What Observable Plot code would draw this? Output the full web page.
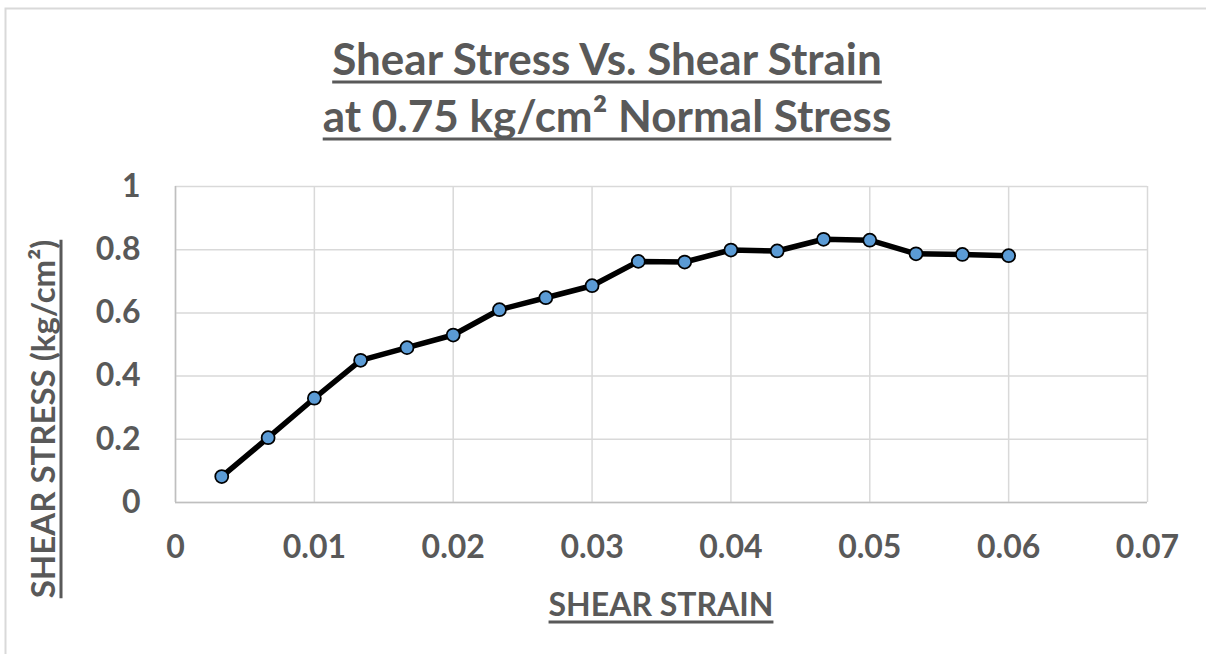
<!DOCTYPE html>
<html><head><meta charset="utf-8">
<script src="https://cdn.jsdelivr.net/npm/d3@7"></script>
<script src="https://cdn.jsdelivr.net/npm/@observablehq/plot@0.6"></script>
<style>body{margin:0;background:#fff} svg{display:block}</style>
</head><body><div id="chart"></div>
<script>
const strain = [0.00333,0.00667,0.01,0.01333,0.01667,0.02,0.02333,0.02667,0.03,0.03333,0.03667,0.04,0.04333,0.04667,0.05,0.05333,0.05667,0.06];
const stress = [0.082,0.205,0.33,0.45,0.49,0.53,0.61,0.648,0.686,0.763,0.761,0.799,0.796,0.833,0.830,0.787,0.785,0.781];
const xTicks = [0,0.01,0.02,0.03,0.04,0.05,0.06,0.07];
const yTicks = [0,0.2,0.4,0.6,0.8,1];
const title1 = "Shear Stress Vs. Shear Strain";
const title2 = "at 0.75 kg/cm\u00B2 Normal Stress";
const xLabel = "SHEAR STRAIN";
const yLabel = "SHEAR STRESS (kg/cm\u00B2)";

const data = strain.map((x, i) => ({x, y: stress[i]}));
const FONT = "Lato, 'Open Sans', sans-serif";
const GREY = "#595959";

const chart = Plot.plot({
  width: 1206, height: 654,
  marginLeft: 175, marginRight: 59, marginTop: 186, marginBottom: 152,
  style: {fontFamily: FONT, background: "#fff", overflow: "visible"},
  x: {domain: [0, 0.07]},
  y: {domain: [0, 1]},
  marks: [
    Plot.gridX(xTicks, {stroke: "#d9d9d9", strokeOpacity: 1, strokeWidth: 1.5}),
    Plot.gridY(yTicks, {stroke: "#d9d9d9", strokeOpacity: 1, strokeWidth: 1.5}),
    Plot.ruleY([0], {stroke: "#bfbfbf", strokeWidth: 1.5}),
    Plot.ruleX([0], {stroke: "#bfbfbf", strokeWidth: 1.5}),
    Plot.axisX(xTicks, {tickSize: 0, tickPadding: 33, tickFormat: d => String(d), fontSize: 32, fontWeight: "bold", fill: GREY, label: null}),
    Plot.axisY(yTicks, {tickSize: 0, tickPadding: 35, tickFormat: d => String(d), fontSize: 32, fontWeight: "bold", fill: GREY, label: null}),
    Plot.line(data, {x: "x", y: "y", stroke: "#000", strokeWidth: 5.5, strokeLinejoin: "round"}),
    Plot.dot(data, {x: "x", y: "y", r: 6.5, fill: "#5b9bd5", stroke: "#000", strokeWidth: 1.75})
  ]
});
document.getElementById("chart").appendChild(chart);

const svg = d3.select(chart);
svg.insert("rect", ":first-child")
  .attr("x", 5.5).attr("y", 8.5).attr("width", 1400).attr("height", 1000)
  .attr("fill", "#fff").attr("stroke", "#d9d9d9").attr("stroke-width", 2);

function addText(str, x, y, size, rotate, ulOffset, ulWidth) {
  const g = svg.append("g").attr("transform", `translate(${x},${y})` + (rotate ? ` rotate(${rotate})` : ""));
  const t = g.append("text").attr("text-anchor", "middle")
    .attr("font-family", FONT).attr("font-weight", "bold").attr("font-size", size)
    .attr("fill", GREY).text(str);
  const w = t.node().getComputedTextLength();
  g.append("line").attr("x1", -w/2).attr("x2", w/2).attr("y1", ulOffset).attr("y2", ulOffset)
    .attr("stroke", GREY).attr("stroke-width", ulWidth);
}
addText(title1, 607, 75, 44, 0, 7, 3);
addText(title2, 607, 132, 44, 0, 7, 3);
addText(xLabel, 661, 616, 32, 0, 6, 3);
addText(yLabel, 55, 419, 33, -90, 6, 3);
</script>
</body></html>
